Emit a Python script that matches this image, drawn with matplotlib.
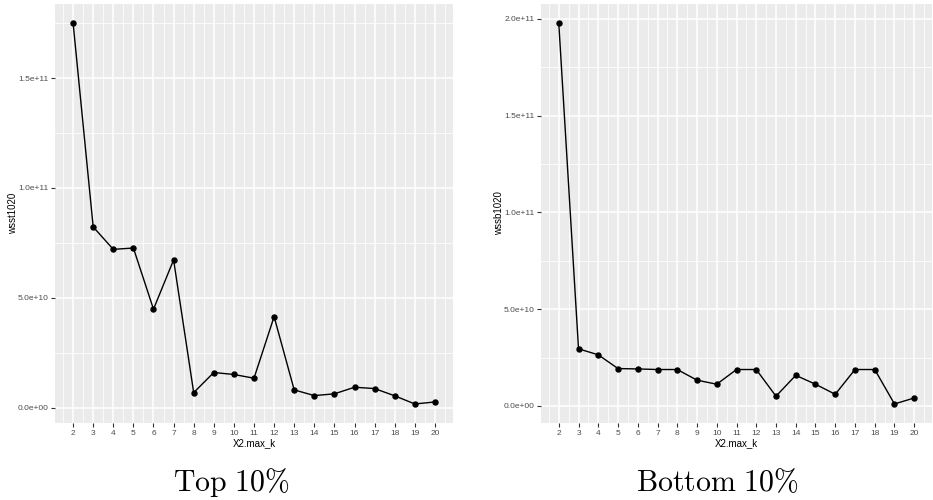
import matplotlib
matplotlib.use("Agg")
import matplotlib.pyplot as plt
from matplotlib.ticker import FixedLocator, FuncFormatter

# data
max_k = list(range(2, 21))
wss_top = [1.75e11, 8.23e10, 7.21e10, 7.27e10, 4.49e10, 6.73e10, 6.97e9, 1.61e10,
           1.52e10, 1.35e10, 4.15e10, 8.2e9, 5.6e9, 6.4e9, 9.4e9, 8.8e9, 5.5e9,
           1.8e9, 2.7e9]
wss_bottom = [1.979e11, 2.95e10, 2.64e10, 1.93e10, 1.91e10, 1.88e10, 1.88e10,
              1.33e10, 1.12e10, 1.88e10, 1.88e10, 5.0e9, 1.58e10, 1.12e10, 6.0e9,
              1.88e10, 1.88e10, 1.0e9, 4.1e9]
ylabels = ["wsst1020", "wssb1020"]
titles = [r"$\mathrm{Top\ 10\%}$", r"$\mathrm{Bottom\ 10\%}$"]
yticks_top = [0, 5e10, 1e11, 1.5e11]
yticks_bottom = [0, 5e10, 1e11, 1.5e11, 2e11]

plt.rcParams['font.family'] = ['Liberation Sans', 'DejaVu Sans']
plt.rcParams['mathtext.fontset'] = 'cm'

fig = plt.figure(figsize=(9.33, 5), dpi=100)

boxes = [(55 / 933, 0.154, 398 / 933, 0.838), (541 / 933, 0.154, 391 / 933, 0.838)]
title_x = [231 / 933, 717 / 933]
ylabel_x = [18 / 933, 504 / 933]


def sci(v, pos):
    s = "%.1e" % v
    mant, ex = s.split("e")
    sign = "+" if int(ex) >= 0 else "-"
    return "%se%s%02d" % (mant, sign, abs(int(ex)))


for i, (vals, yt) in enumerate([(wss_top, yticks_top), (wss_bottom, yticks_bottom)]):
    ax = fig.add_axes(boxes[i])
    ax.set_facecolor('#EBEBEB')
    for s in ax.spines.values():
        s.set_visible(False)

    ax.plot(max_k, vals, color='black', lw=1.0, zorder=3)
    ax.plot(max_k, vals, 'o', color='black', ms=3.6, zorder=4)

    # ggplot-ish 5% expansion
    ax.set_xlim(2 - 0.9, 20 + 0.9)
    lo, hi = min(vals), max(vals)
    pad = (hi - lo) * 0.05
    ax.set_ylim(lo - pad, hi + pad)

    ax.xaxis.set_major_locator(FixedLocator(max_k))
    ax.xaxis.set_minor_locator(FixedLocator([k + 0.5 for k in range(1, 21)]))
    ax.yaxis.set_major_locator(FixedLocator(yt))
    ax.yaxis.set_minor_locator(FixedLocator([v + 2.5e10 for v in [-5e10] + yt]))
    ax.yaxis.set_major_formatter(FuncFormatter(sci))

    ax.grid(which='major', color='white', lw=1.1)
    ax.grid(which='minor', color='white', lw=0.55)
    ax.set_axisbelow(True)

    ax.tick_params(which='major', length=2.7, width=0.8, color='#333333',
                   labelsize=6, labelcolor='#4D4D4D', pad=2)
    ax.tick_params(which='minor', length=0)

    ax.set_xlabel("X2.max_k", fontsize=7, labelpad=1.5)
    ax.set_ylabel(ylabels[i], fontsize=7)
    ax.yaxis.set_label_coords(ylabel_x[i], 0.154 + 0.838 / 2, transform=fig.transFigure)

    fig.text(title_x[i], 1 - 490.7 / 500, titles[i], ha='center', va='baseline',
             fontsize=21.5)

fig.savefig("out.png", dpi=100)
plt.close(fig)
